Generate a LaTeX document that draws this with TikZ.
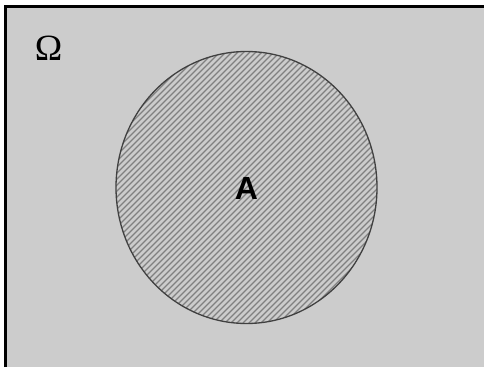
\documentclass[tikz,border=0pt]{standalone}
\usepackage{fontspec}
\setmainfont{Liberation Serif}
\newfontfamily\labelsans{Liberation Sans}
\definecolor{bggray}{HTML}{CCCCCC}
\definecolor{hatchgray}{HTML}{808080}
\definecolor{edgegray}{HTML}{404040}
\tikzset{
  frameline/.style={line width=3.5pt, black},
  hatchline/.style={line width=1.4pt, hatchgray},
  setedge/.style={line width=1.3pt, edgegray},
  omegalabel/.style={font=\fontsize{37}{39}\selectfont, inner sep=0pt},
  setlabel/.style={font=\labelsans\bfseries\fontsize{32}{34}\selectfont, inner sep=0pt}
}
\begin{document}
\begin{tikzpicture}[x=1pt,y=1pt]
\useasboundingbox (0,0) rectangle (484,367);
\fill[white] (0,0) rectangle (484,367);
\fill[bggray] (4,0) rectangle (484,362);
% hatched set A
\begin{scope}
  \clip (246.5,179.5) ellipse [x radius=130.5, y radius=136];
  \fill[bggray] (246.5,179.5) ellipse [x radius=130.5, y radius=136];
  \foreach \c in {-330,-324,...,330}
    \draw[hatchline] ({246.5+\c-200},{179.5-200}) -- ++(400,400);
\end{scope}
\draw[setedge] (246.5,179.5) ellipse [x radius=130.5, y radius=136];
% frame
\draw[frameline] (5.5,0) -- (5.5,360.5) -- (484,360.5);
% labels
\node[omegalabel] (omega) at (48.5,318.5) {Ω};
\node[setlabel] (A) at (246.5,178.5) {A};
\end{tikzpicture}
\end{document}
